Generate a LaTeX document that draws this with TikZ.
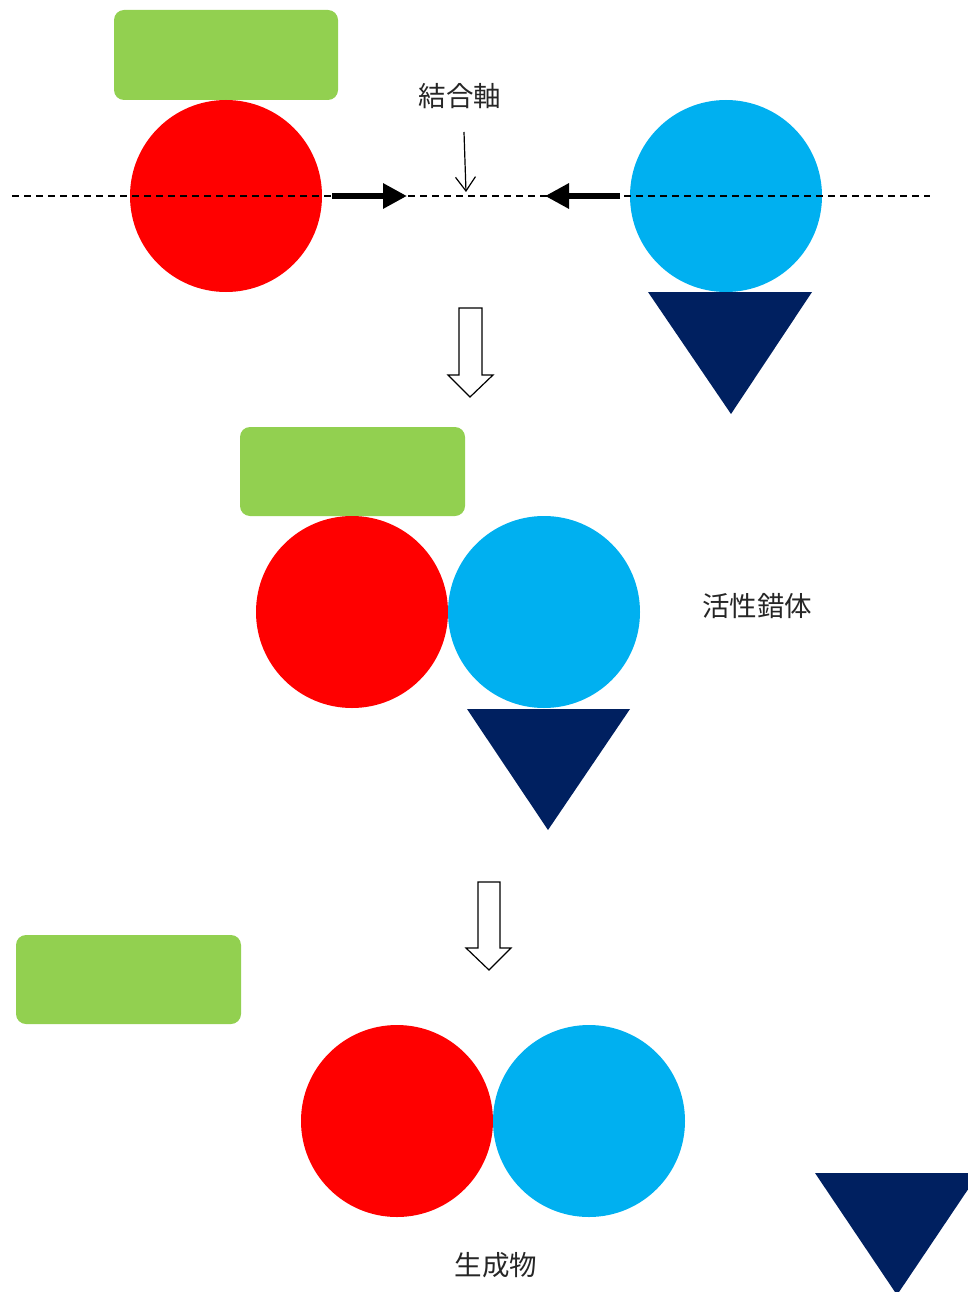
\documentclass[tikz,border=0pt]{standalone}
\usepackage{fontspec}
\newfontfamily\jp{Noto Sans CJK JP}
\usetikzlibrary{arrows.meta}
\definecolor{cred}{HTML}{FF0000}
\definecolor{cblue}{HTML}{00B0F0}
\definecolor{cgreen}{HTML}{92D050}
\definecolor{cnavy}{HTML}{002060}
\tikzset{
  rball/.style={circle,fill=cred,minimum size=192pt,inner sep=0pt},
  bball/.style={circle,fill=cblue,minimum size=192pt,inner sep=0pt},
  gbox/.style={rounded corners=10pt,fill=cgreen},
  tri/.style={fill=cnavy},
  lbl/.style={font=\jp\fontsize{27.5}{32}\selectfont,text=black!85,inner sep=0pt},
  bigarr/.style={line width=6pt,-{Triangle[length=24pt,width=24pt]}},
  hollow/.style={draw=black,line width=1.2pt,fill=white,line join=miter}
}
\begin{document}
\begin{tikzpicture}[x=1pt,y=-1pt]
\useasboundingbox (0,0) rectangle (968,1292);
% --- stage 1
\fill[gbox] (114,10) rectangle (338,100);
\node[rball] (r1) at (226,196) {};
\node[bball] (b1) at (726,196) {};
\fill[tri] (648,292) -- (812,292) -- (731,414) -- cycle;
\coordinate (d1) at (12,196);
\coordinate (d2) at (930,196);
\draw[line width=1.2pt,dash pattern=on 7pt off 5pt] (d1) -- (d2);
\coordinate (a1s) at (332,196);
\coordinate (a1e) at (407,196);
\coordinate (a2s) at (620,196);
\coordinate (a2e) at (545,196);
\draw[bigarr] (a1s) -- (a1e);
\draw[bigarr] (a2s) -- (a2e);
\node[lbl] (ax) at (460,96) {結合軸};
\coordinate (t1) at (464,132);
\coordinate (t2) at (466,192);
\draw[line width=1.2pt,-{Straight Barb[length=14pt,width=20pt]}] (t1) -- (t2);
% hollow arrow 1
\draw[hollow] (459,308) -- (482,308) -- (482,375) -- (493,375) -- (470,397) -- (448,375) -- (459,375) -- cycle;
% --- stage 2
\fill[gbox] (240,427) rectangle (465,516);
\node[rball] (r2) at (352,612) {};
\node[bball] (b2) at (544,612) {};
\fill[tri] (467,709) -- (630,709) -- (548,830) -- cycle;
\node[lbl] (act) at (757,606) {活性錯体};
% hollow arrow 2
\draw[hollow] (478,882) -- (500,882) -- (500,948) -- (511,948) -- (489,970) -- (466,948) -- (478,948) -- cycle;
% --- stage 3
\fill[gbox] (16,935) rectangle (241,1024);
\node[rball] (r3) at (397,1121) {};
\node[bball] (b3) at (589,1121) {};
\begin{scope}
\clip (0,0) rectangle (968,1292);
\fill[tri] (815,1173) -- (979,1173) -- (897,1295) -- cycle;
\end{scope}
\node[lbl] (prod) at (496,1265) {生成物};
\end{tikzpicture}
\end{document}
